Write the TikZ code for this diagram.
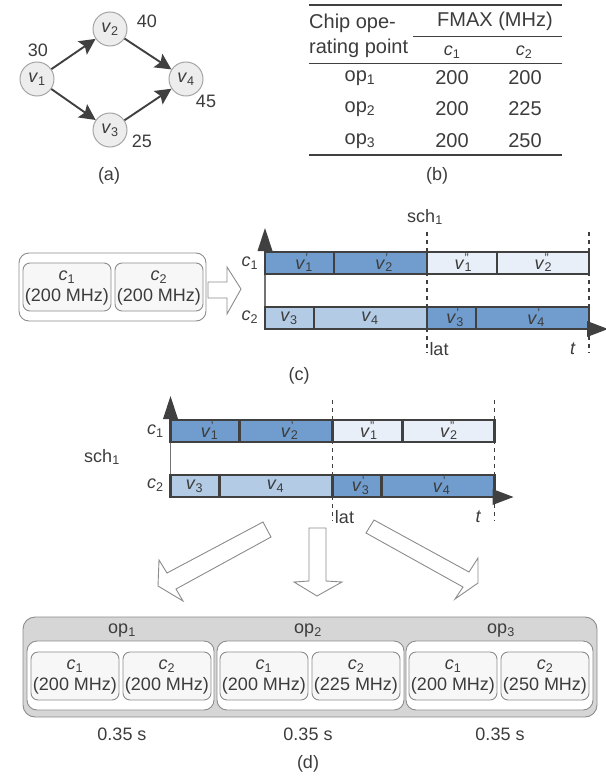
\documentclass[tikz,border=0pt]{standalone}
\usepackage{fontspec}
\setmainfont{Liberation Sans}
\usetikzlibrary{arrows.meta}
\definecolor{txt}{HTML}{3C3C3C}
\definecolor{barline}{HTML}{404040}
\definecolor{darkblue}{HTML}{709DCD}
\definecolor{midblue}{HTML}{B3CBE5}
\definecolor{paleblue}{HTML}{E9EFF8}
\tikzset{
  lbl/.style={font=\fontsize{18}{20}\selectfont,text=txt,inner sep=0pt},
  tbl/.style={font=\fontsize{20}{22}\selectfont,text=txt,inner sep=0pt},
  vertex/.style={circle,draw=black!35,line width=1pt,fill=black!7,minimum size=34pt,inner sep=0pt,font=\fontsize{18}{20}\selectfont,text=txt},
  edge/.style={draw=barline,line width=1.9pt,-{Stealth[length=16pt,width=16pt,inset=3pt]}},
  seg/.style={draw=barline,line width=2.3pt},
  outerbox/.style={draw=black!45,line width=.9pt,rounded corners=10pt,fill=white},
  corebox/.style={draw=black!45,line width=.9pt,rounded corners=7pt,fill=black!3},
  opbox/.style={draw=black!45,line width=.9pt,rounded corners=12pt,fill=black!16},
  bigarrow/.style={draw=black!45,line width=.9pt,fill=white},
  axis/.style={draw=black!55,line width=1.6pt},
  tip/.style={fill=barline},
  guide/.style={draw=barline,line width=1.1pt,dash pattern=on 4pt off 4pt},
  rulel/.style={draw=barline,line width=1.5pt},
  ruleh/.style={draw=barline,line width=.9pt},
}
\newcommand{\sbn}[1]{\textsubscript{\upshape #1}}
\newcommand{\cc}[1]{\textit{c}\sbn{#1}}
\newcommand{\vv}[1]{\textit{v}\sbn{#1}}
\newcommand{\vp}[2]{\textit{v}\rlap{\sbn{#1}}\textsuperscript{\upshape #2}}
\newcommand{\corepair}[4]{% x, y(top), freq1, freq2
  \draw[corebox] (#1,#2) rectangle ++(88,48);
  \draw[corebox] (#1+92,#2) rectangle ++(88,48);
  \node[lbl] (cl) at (#1+44,#2+14) {\cc{1}};
  \node[lbl] (fl) at (#1+44,#2+34) {(#3 MHz)};
  \node[lbl] (cr) at (#1+136,#2+14) {\cc{2}};
  \node[lbl] (fr) at (#1+136,#2+34) {(#4 MHz)};
}
% Gantt chart: x0 origin, y0 top of c1 row
\newcommand{\gantt}[2]{%
  \begin{scope}[shift={(#1,#2)}]
    \draw[axis] (0,-3) -- (0,78);
    \fill[tip] (-7.5,-1) -- (0,-24) -- (7.5,-1) -- cycle;
    \node[lbl] (gc1) at (-15,11) {\cc{1}};
    \node[lbl] (gc2) at (-15,65) {\cc{2}};
    \draw[seg,fill=darkblue] (0,0) rectangle (69,22);
    \draw[seg,fill=darkblue] (69,0) rectangle (162,22);
    \draw[seg,fill=paleblue] (162,0) rectangle (232,22);
    \draw[seg,fill=paleblue] (232,0) rectangle (324,22);
    \draw[seg,fill=midblue] (0,55) rectangle (49,77);
    \draw[seg,fill=midblue] (49,55) rectangle (162,77);
    \draw[seg,fill=darkblue] (162,55) rectangle (211,77);
    \draw[seg,fill=darkblue] (211,55) rectangle (324,77);
    \fill[tip] (322,69) -- (343,77) -- (322,85) -- cycle;
    \draw[guide] (162,-20) -- (162,101);
    \draw[guide] (324,-20) -- (324,101);
    \node[lbl] (b1) at (37,11) {\vp{1}{'}};
    \node[lbl] (b2) at (117,11) {\vp{2}{'}};
    \node[lbl] (b3) at (197,11) {\vp{1}{''}};
    \node[lbl] (b4) at (277,11) {\vp{2}{''}};
    \node[lbl] (b5) at (24,66) {\vv{3}};
    \node[lbl] (b6) at (105,66) {\vv{4}};
    \node[lbl] (b7) at (188,66) {\vp{3}{'}};
    \node[lbl] (b8) at (269,66) {\vp{4}{'}};
    \node[lbl] (blat) at (174,97) {lat};
    \node[lbl] (bt) at (308,97) {\textit{t}};
  \end{scope}
}
\begin{document}
\begin{tikzpicture}[x=1pt,y=-1pt]
\useasboundingbox (0,0) rectangle (605,776);
% (a)
\node[vertex] (v1) at (37,79) {\vv{1}};
\node[vertex] (v2) at (110,29) {\vv{2}};
\node[vertex] (v3) at (110,130) {\vv{3}};
\node[vertex] (v4) at (186,79) {\vv{4}};
\draw[edge] (v1) -- (v2);
\draw[edge] (v1) -- (v3);
\draw[edge] (v2) -- (v4);
\draw[edge] (v3) -- (v4);
\node[lbl] (w1) at (38,50) {30};
\node[lbl] (w2) at (147,21) {40};
\node[lbl] (w3) at (142,141) {25};
\node[lbl] (w4) at (206,101) {45};
\node[lbl] (capa) at (109,176) {(a)};
% (b)
\draw[rulel] (309,5) -- (562,5);
\draw[ruleh] (413,36) -- (562,36);
\draw[ruleh] (309,63) -- (562,63);
\draw[rulel] (309,155) -- (562,155);
\node[tbl,anchor=west] (h1) at (309,23) {Chip ope-};
\node[tbl,anchor=west] (h2) at (309,48) {rating point};
\node[tbl] (h3) at (495,21) {FMAX (MHz)};
\node[lbl] (h4) at (452,52) {\cc{1}};
\node[lbl] (h5) at (524,52) {\cc{2}};
\node[tbl] (r1) at (360,78) {op\sbn{1}};
\node[tbl] (r2) at (360,109) {op\sbn{2}};
\node[tbl] (r3) at (360,141) {op\sbn{3}};
\node[tbl] (d11) at (452,78) {200}; \node[tbl] (d12) at (525,78) {200};
\node[tbl] (d21) at (452,109) {200}; \node[tbl] (d22) at (525,109) {225};
\node[tbl] (d31) at (452,141) {200}; \node[tbl] (d32) at (525,141) {250};
\node[lbl] (capb) at (437,176) {(b)};
% (c)
\draw[outerbox] (19,253) rectangle (206,321);
\corepair{23}{263}{200}{200}
\draw[bigarrow] (208,282) -- (227,282) -- (227,267) -- (241,289) -- (227,314) -- (227,298) -- (208,298) -- cycle;
\gantt{265}{252}
\node[lbl] (sa) at (425,217) {sch\sbn{1}};
\node[lbl] (capc) at (299,376) {(c)};
% (d)
\gantt{170.5}{420}
\node[lbl] (sb) at (102,457) {sch\sbn{1}};
\draw[bigarrow] (263,522) -- (271,537) -- (176,589) -- (183,601) -- (158,586) -- (159,560) -- (167,573) -- cycle;
\draw[bigarrow] (309,528) -- (326,528) -- (326,581) -- (342,582) -- (317,596) -- (294,582) -- (309,581) -- cycle;
\draw[bigarrow] (374,520) -- (366,533) -- (463,587) -- (455,599) -- (478,583) -- (478,558) -- (469,572) -- cycle;
\draw[opbox] (23,617) rectangle (597,717);
\node[lbl] (o1) at (122,631) {op\sbn{1}};
\node[lbl] (o2) at (308,631) {op\sbn{2}};
\node[lbl] (o3) at (501,631) {op\sbn{3}};
\draw[outerbox] (27,641) rectangle (214,710);
\draw[outerbox] (217,641) rectangle (404,710);
\draw[outerbox] (406,641) rectangle (593,710);
\corepair{31}{652}{200}{200}
\corepair{220}{652}{200}{225}
\corepair{409}{652}{200}{250}
\node[lbl] (t1) at (122,734) {0.35 s};
\node[lbl] (t2) at (308,734) {0.35 s};
\node[lbl] (t3) at (500,734) {0.35 s};
\node[lbl] (capd) at (308,764) {(d)};
\end{tikzpicture}
\end{document}
